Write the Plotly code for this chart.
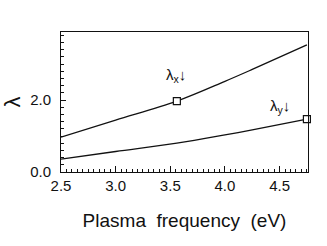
import plotly.graph_objects as go

freq = [2.5, 3.0, 3.56, 4.0, 4.25, 4.75]
lambda_x = [0.97, 1.44, 1.97, 2.52, 2.85, 3.53]
lambda_y = [0.36, 0.57, 0.80, 1.03, 1.17, 1.47]
marker_x_freq = [3.56]
marker_x_val = [1.97]
marker_y_freq = [4.75]
marker_y_val = [1.47]
xticks = [2.5, 3.0, 3.5, 4.0, 4.5]
xticklabels = ["2.5", "3.0", "3.5", "4.0", "4.5"]
yticks = [0.0, 2.0]
yticklabels = ["0.0", "2.0"]

fig = go.Figure()
fig.add_trace(go.Scatter(x=freq, y=lambda_x, mode="lines", line=dict(color="#111", width=1.3, shape="spline"), showlegend=False))
fig.add_trace(go.Scatter(x=freq, y=lambda_y, mode="lines", line=dict(color="#111", width=1.3, shape="spline"), showlegend=False))
fig.add_trace(go.Scatter(x=marker_x_freq + marker_y_freq, y=marker_x_val + marker_y_val, mode="markers",
                         marker=dict(symbol="square", size=7, color="white", line=dict(width=1.2, color="#111")),
                         cliponaxis=False, showlegend=False))

fig.add_annotation(x=3.55, y=2.68, text="λ<sub>x</sub>↓", showarrow=False, font=dict(size=15, color="#111"))
fig.add_annotation(x=4.5, y=1.82, text="λ<sub>y</sub>↓", showarrow=False, font=dict(size=15, color="#111"))

fig.update_layout(
    width=327, height=246,
    margin=dict(l=61, r=19, t=32, b=74),
    paper_bgcolor="white", plot_bgcolor="white",
    font=dict(family="Liberation Sans, Arial, sans-serif", color="#111", size=15),
    xaxis=dict(range=[2.5, 4.76], tickvals=xticks, ticktext=xticklabels, ticks="inside", ticklen=6,
               tickcolor="#111", showline=True, linecolor="#111", linewidth=1, mirror=True,
               showgrid=False, zeroline=False, tickfont=dict(size=15), automargin=False,
               minor=dict(dtick=0.05, tick0=2.5, ticks="inside", ticklen=3, tickcolor="#111", showgrid=False),
               title=dict(text="Plasma  frequency  (eV)", font=dict(size=19), standoff=20)),
    yaxis=dict(range=[0, 3.89], tickvals=yticks, ticktext=yticklabels, ticks="inside", ticklen=5,
               tickcolor="#111", showline=True, linecolor="#111", linewidth=1, mirror=True,
               showgrid=False, zeroline=False, tickfont=dict(size=15), ticklabelstandoff=6, automargin=False,
               minor=dict(dtick=0.2, tick0=0, ticks="inside", ticklen=3, tickcolor="#111", showgrid=False),
               title=dict(text="λ", font=dict(size=22), standoff=5)),
)
fig.write_html("out.html", config={"displayModeBar": False},
               post_script="document.body.style.margin='0';document.body.style.overflow='hidden';")
